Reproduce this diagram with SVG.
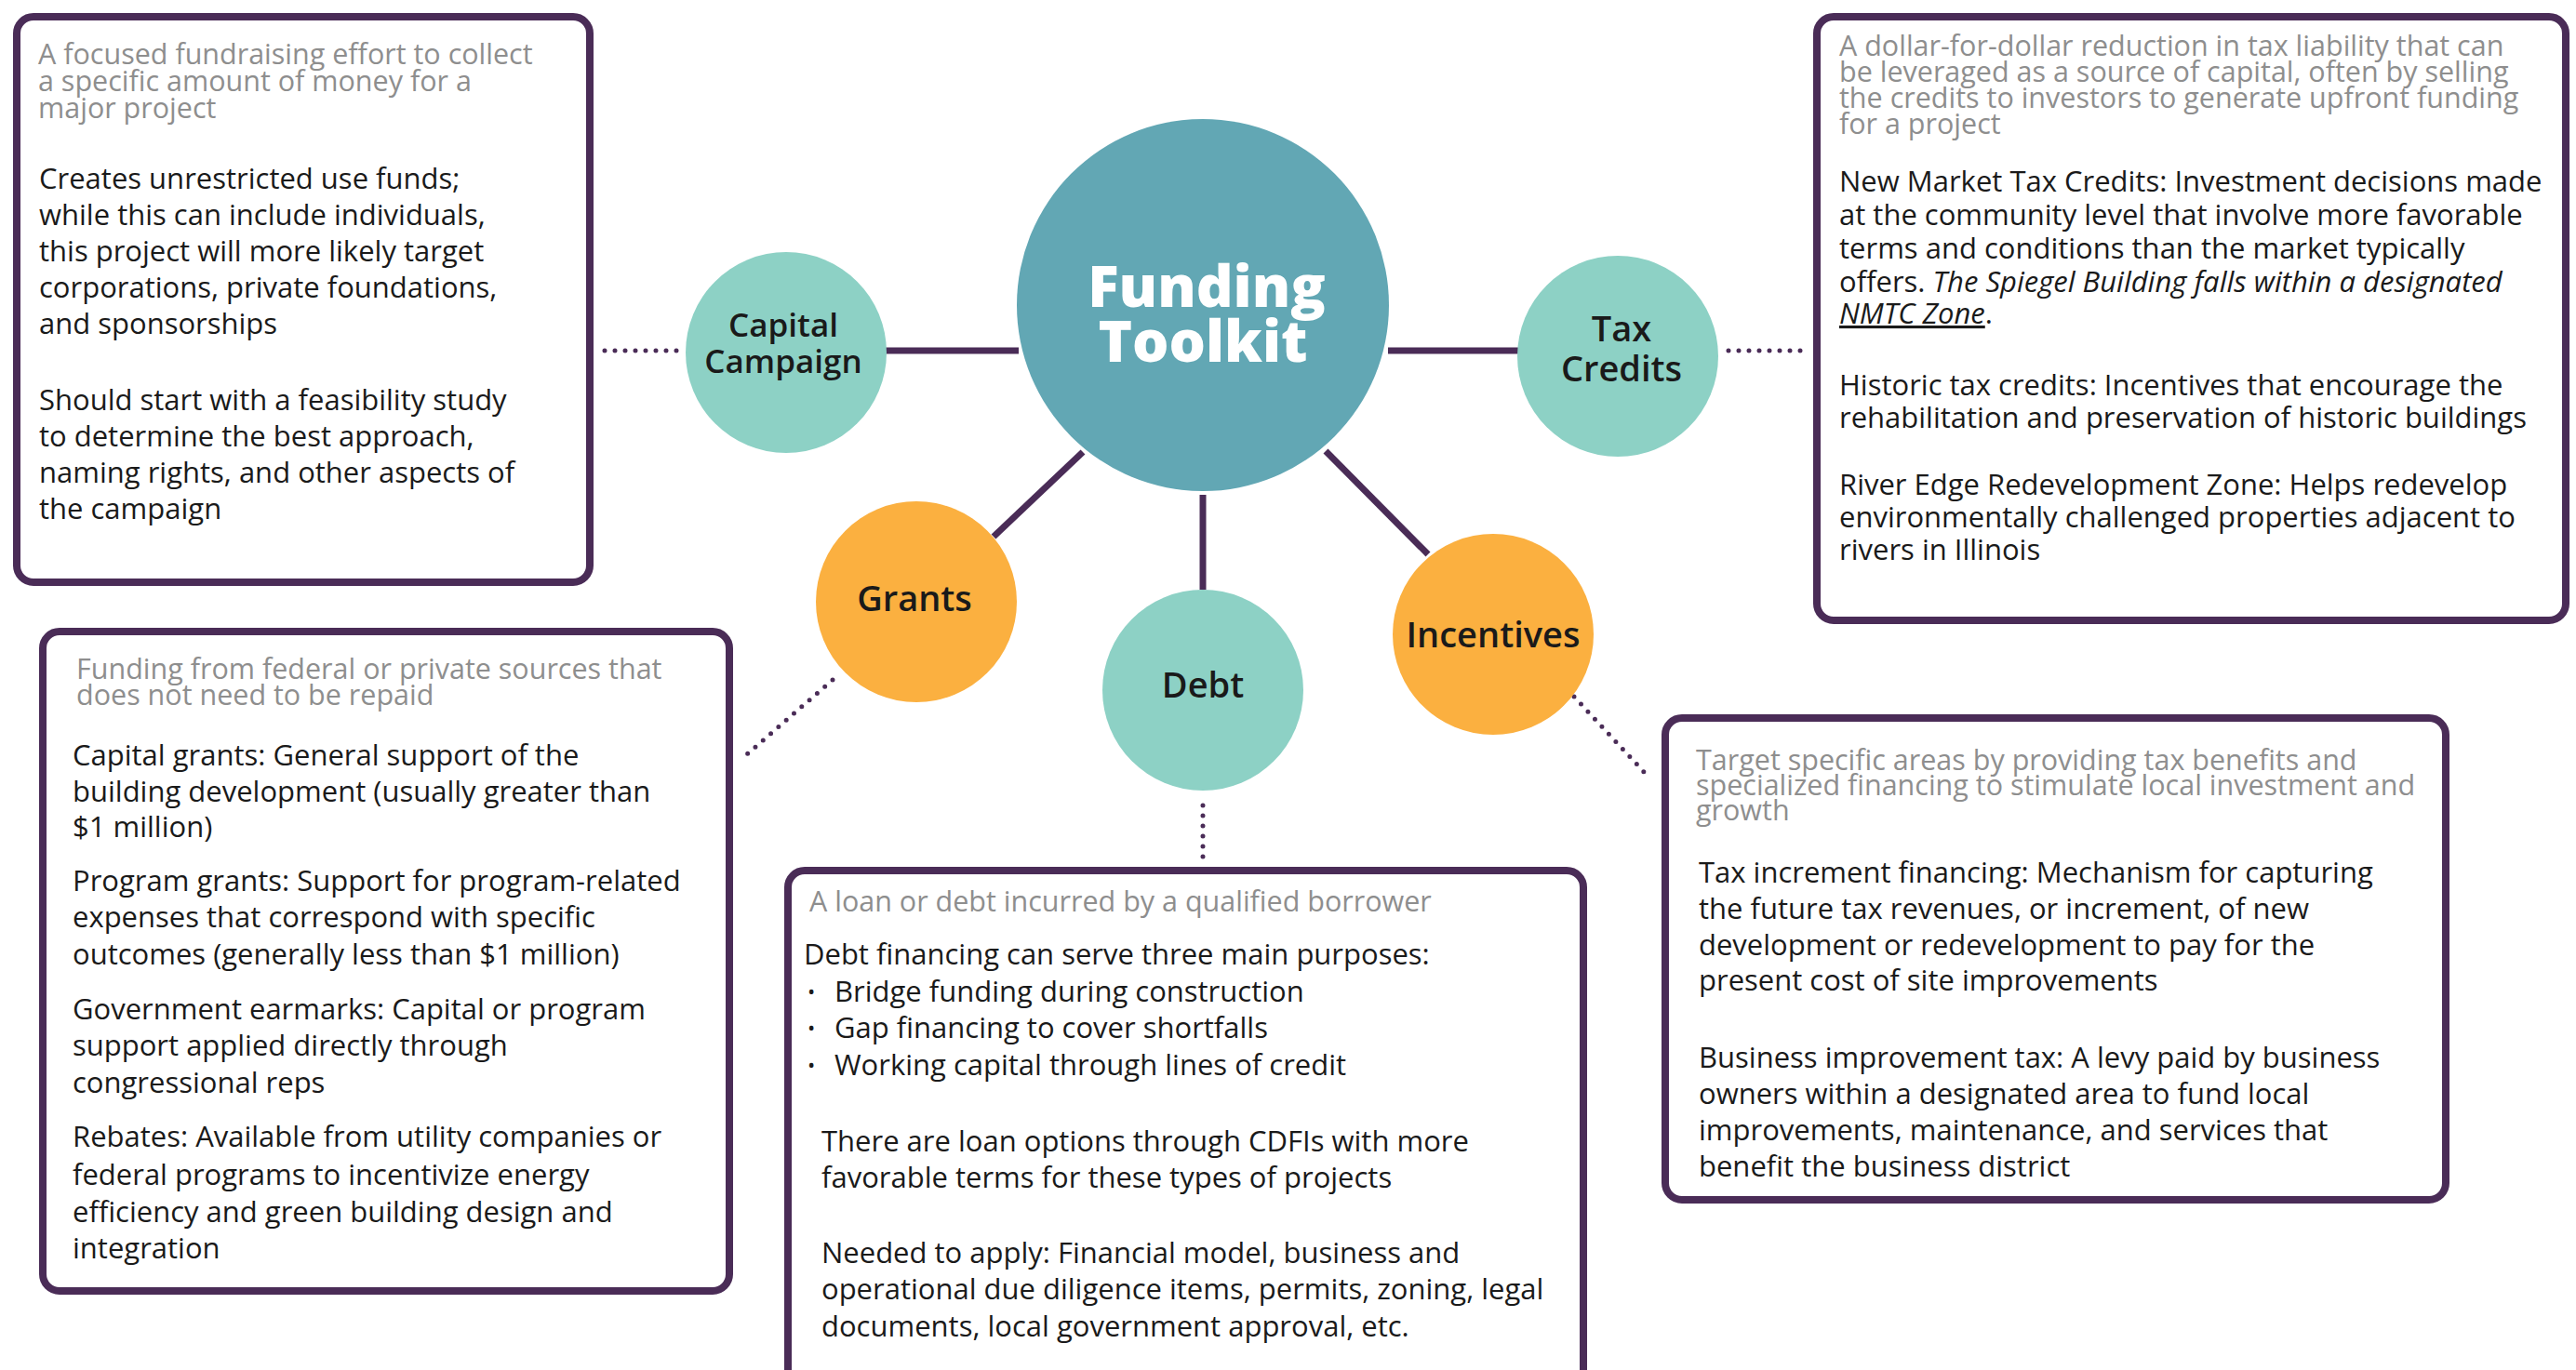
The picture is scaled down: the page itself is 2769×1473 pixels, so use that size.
<svg xmlns="http://www.w3.org/2000/svg" width="2769" height="1473" viewBox="0 0 2769 1473">
<defs>
<style>
.box{fill:#ffffff;stroke:#4a2c57;stroke-width:8}
.gray{font-family:"Open Sans","Liberation Sans",sans-serif;font-size:30.5px;fill:#8e8e8e}
.txt{font-family:"Open Sans","Liberation Sans",sans-serif;font-size:31px;fill:#1a1a1a}
.bul{font-family:"Open Sans","Liberation Sans",sans-serif;font-size:22px;fill:#1a1a1a}
.lbl{font-family:"Open Sans","Liberation Sans",sans-serif;font-size:38px;font-weight:600;fill:#1a1a1a;text-anchor:middle}
.big{font-family:"Open Sans","Liberation Sans",sans-serif;font-size:62px;font-weight:800;fill:#ffffff;text-anchor:middle}
.solid{stroke:#4a2c57;stroke-width:7;fill:none}
.dot{stroke:#4a2c57;stroke-width:5;fill:none;stroke-linecap:round;stroke-dasharray:0 11}
.teal{fill:#8dd1c5}
.orange{fill:#fbb040}
</style>
</defs>
<rect width="2769" height="1473" fill="#ffffff"/>

<g id="connectors">
<line class="solid" x1="948" y1="377" x2="1095" y2="377"/>
<line class="solid" x1="1492" y1="377" x2="1634" y2="377"/>
<line class="solid" x1="1068" y1="577" x2="1164" y2="486"/>
<line class="solid" x1="1293" y1="532" x2="1293" y2="634"/>
<line class="solid" x1="1425" y1="485" x2="1535" y2="596"/>
<line class="dot" x1="650" y1="377" x2="732" y2="377"/>
<line class="dot" x1="1858" y1="377" x2="1940" y2="377"/>
<line class="dot" x1="895" y1="731" x2="796" y2="817"/>
<line class="dot" x1="1293" y1="866" x2="1293" y2="925"/>
<line class="dot" x1="1692" y1="749" x2="1769" y2="832"/>
</g>

<g id="center-funding-toolkit">
<circle cx="1293" cy="328" r="200" fill="#62a7b4"/>
<text class="big" x="1297" y="330">Funding</text>
<text class="big" x="1293" y="389">Toolkit</text>
</g>

<g id="node-capital-campaign">
<circle class="teal" cx="845" cy="379" r="108"/>
<text class="lbl" x="842" y="362" style="font-size:35px">Capital</text>
<text class="lbl" x="842" y="401" style="font-size:35px">Campaign</text>
</g>

<g id="node-tax-credits">
<circle class="teal" cx="1739" cy="383" r="108"/>
<text class="lbl" x="1743" y="367">Tax</text>
<text class="lbl" x="1743" y="410">Credits</text>
</g>

<g id="node-grants">
<circle class="orange" cx="985" cy="647" r="108"/>
<text class="lbl" x="983" y="657">Grants</text>
</g>

<g id="node-debt">
<circle class="teal" cx="1293" cy="742" r="108"/>
<text class="lbl" x="1293" y="750">Debt</text>
</g>

<g id="node-incentives">
<circle class="orange" cx="1605" cy="682" r="108"/>
<text class="lbl" x="1605" y="696">Incentives</text>
</g>

<g id="box-capital-campaign">
<rect class="box" x="18" y="18" width="616" height="608" rx="18"/>
<text class="gray" x="41" y="69">A focused fundraising effort to collect</text>
<text class="gray" x="41" y="98">a specific amount of money for a</text>
<text class="gray" x="41" y="127">major project</text>
<text class="txt" x="42" y="203">Creates unrestricted use funds;</text>
<text class="txt" x="42" y="242">while this can include individuals,</text>
<text class="txt" x="42" y="281">this project will more likely target</text>
<text class="txt" x="42" y="320">corporations, private foundations,</text>
<text class="txt" x="42" y="359">and sponsorships</text>
<text class="txt" x="42" y="441">Should start with a feasibility study</text>
<text class="txt" x="42" y="480">to determine the best approach,</text>
<text class="txt" x="42" y="519">naming rights, and other aspects of</text>
<text class="txt" x="42" y="558">the campaign</text>
</g>

<g id="box-tax-credits">
<rect class="box" x="1953" y="18" width="805" height="649" rx="18"/>
<text class="gray" x="1977" y="60">A dollar-for-dollar reduction in tax liability that can</text>
<text class="gray" x="1977" y="88">be leveraged as a source of capital, often by selling</text>
<text class="gray" x="1977" y="116">the credits to investors to generate upfront funding</text>
<text class="gray" x="1977" y="144">for a project</text>
<text class="txt" x="1977" y="206">New Market Tax Credits: Investment decisions made</text>
<text class="txt" x="1977" y="242">at the community level that involve more favorable</text>
<text class="txt" x="1977" y="278">terms and conditions than the market typically</text>
<text class="txt" x="1977" y="314">offers. <tspan font-style="italic">The Spiegel Building falls within a designated</tspan></text>
<text class="txt" x="1977" y="348"><tspan font-style="italic" text-decoration="underline">NMTC Zone</tspan>.</text>
<text class="txt" x="1977" y="425">Historic tax credits: Incentives that encourage the</text>
<text class="txt" x="1977" y="460">rehabilitation and preservation of historic buildings</text>
<text class="txt" x="1977" y="532">River Edge Redevelopment Zone: Helps redevelop</text>
<text class="txt" x="1977" y="567">environmentally challenged properties adjacent to</text>
<text class="txt" x="1977" y="602">rivers in Illinois</text>
</g>

<g id="box-grants">
<rect class="box" x="46" y="679" width="738" height="709" rx="18"/>
<text class="gray" x="82" y="730">Funding from federal or private sources that</text>
<text class="gray" x="82" y="758">does not need to be repaid</text>
<text class="txt" x="78" y="823">Capital grants: General support of the</text>
<text class="txt" x="78" y="862">building development (usually greater than</text>
<text class="txt" x="78" y="900">$1 million)</text>
<text class="txt" x="78" y="958">Program grants: Support for program-related</text>
<text class="txt" x="78" y="997">expenses that correspond with specific</text>
<text class="txt" x="78" y="1037">outcomes (generally less than $1 million)</text>
<text class="txt" x="78" y="1096">Government earmarks: Capital or program</text>
<text class="txt" x="78" y="1135">support applied directly through</text>
<text class="txt" x="78" y="1175">congressional reps</text>
<text class="txt" x="78" y="1233">Rebates: Available from utility companies or</text>
<text class="txt" x="78" y="1274">federal programs to incentivize energy</text>
<text class="txt" x="78" y="1314">efficiency and green building design and</text>
<text class="txt" x="78" y="1353">integration</text>
</g>

<g id="box-debt">
<rect class="box" x="847" y="936" width="855" height="600" rx="18"/>
<text class="gray" x="870" y="980">A loan or debt incurred by a qualified borrower</text>
<text class="txt" x="864" y="1037">Debt financing can serve three main purposes:</text>
<text class="bul" x="868" y="1074">•</text>
<text class="txt" x="897" y="1077">Bridge funding during construction</text>
<text class="bul" x="868" y="1113">•</text>
<text class="txt" x="897" y="1116">Gap financing to cover shortfalls</text>
<text class="bul" x="868" y="1153">•</text>
<text class="txt" x="897" y="1156">Working capital through lines of credit</text>
<text class="txt" x="883" y="1238">There are loan options through CDFIs with more</text>
<text class="txt" x="883" y="1277">favorable terms for these types of projects</text>
<text class="txt" x="883" y="1358">Needed to apply: Financial model, business and</text>
<text class="txt" x="883" y="1397">operational due diligence items, permits, zoning, legal</text>
<text class="txt" x="883" y="1437">documents, local government approval, etc.</text>
</g>

<g id="box-incentives">
<rect class="box" x="1790" y="772" width="839" height="518" rx="18"/>
<text class="gray" x="1823" y="828">Target specific areas by providing tax benefits and</text>
<text class="gray" x="1823" y="855">specialized financing to stimulate local investment and</text>
<text class="gray" x="1823" y="882">growth</text>
<text class="txt" x="1826" y="949">Tax increment financing: Mechanism for capturing</text>
<text class="txt" x="1826" y="988">the future tax revenues, or increment, of new</text>
<text class="txt" x="1826" y="1027">development or redevelopment to pay for the</text>
<text class="txt" x="1826" y="1065">present cost of site improvements</text>
<text class="txt" x="1826" y="1148">Business improvement tax: A levy paid by business</text>
<text class="txt" x="1826" y="1187">owners within a designated area to fund local</text>
<text class="txt" x="1826" y="1226">improvements, maintenance, and services that</text>
<text class="txt" x="1826" y="1265">benefit the business district</text>
</g>
</svg>
